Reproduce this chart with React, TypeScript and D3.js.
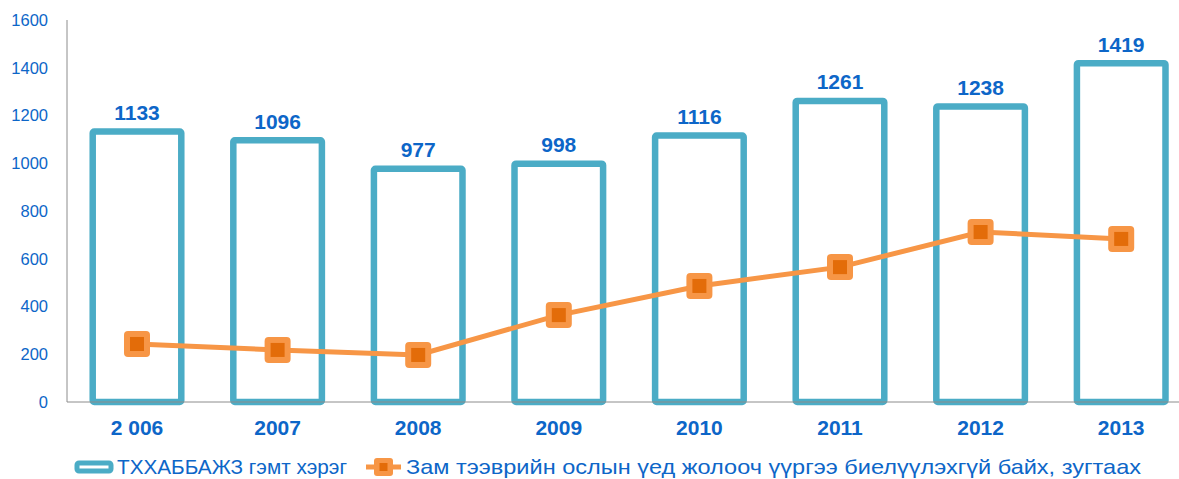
import React from "react";
import * as d3 from "d3";

const categories = ["2 006", "2007", "2008", "2009", "2010", "2011", "2012", "2013"];
const crimeValues = [1133, 1096, 977, 998, 1116, 1261, 1238, 1419];
const driverValues = [243, 218, 197, 364, 486, 565, 712, 683];
const yTicks = [0, 200, 400, 600, 800, 1000, 1200, 1400, 1600];
const seriesNames = [
  "ТХХАББАЖЗ гэмт хэрэг",
  "Зам тээврийн ослын үед жолооч үүргээ биелүүлэхгүй байх, зугтаах",
];

const W = 1179;
const H = 479;
const TEAL = "#4BACC6";
const ORANGE = "#F79646";
const ORANGE_DARK = "#E36C09";
const BLUE = "#0D66C8";
const FONT = "'Liberation Sans', Arial, sans-serif";

export default function App() {
  const x = d3.scaleBand<string>().domain(categories).range([66.7, 1191.5]).paddingInner(0.37).paddingOuter(0.185);
  const y = d3.scaleLinear().domain([0, 1600]).range([402, 20]);
  const bw = x.bandwidth();
  const cx = (c: string) => (x(c) as number) + bw / 2;
  const line = d3
    .line<number>()
    .x((_, i) => cx(categories[i]))
    .y((d) => y(d));

  return (
    <svg width={W} height={H} style={{ position: "absolute", left: 0, top: 0 }} fontFamily={FONT}>
      <rect width={W} height={H} fill="#fff" />
      {/* y axis */}
      <line x1={67} x2={67} y1={y(1600)} y2={y(0)} stroke="#8c8c8c" strokeWidth={1} />
      {yTicks.map((t) => (
        <text key={t} x={48} y={y(t)} dy="0.35em" textAnchor="end" fontSize={16.5} fill={BLUE}>
          {t}
        </text>
      ))}
      {/* bars */}
      {categories.map((c, i) => (
        <g key={c}>
          <rect
            x={x(c) as number}
            y={y(crimeValues[i])}
            width={bw}
            height={y(0) - y(crimeValues[i])}
            fill="#fff"
            stroke={TEAL}
            strokeWidth={6.5}
            rx={1.5}
          />
          <text x={cx(c)} y={y(crimeValues[i]) - 19} dy="0.35em" textAnchor="middle" fontSize={21} fontWeight="bold" fill={BLUE}>
            {crimeValues[i]}
          </text>
          <text x={cx(c)} y={427.5} dy="0.35em" textAnchor="middle" fontSize={21} fontWeight="bold" fill={BLUE}>
            {c}
          </text>
        </g>
      ))}
      {/* x axis */}
      <line x1={67} x2={W} y1={y(0)} y2={y(0)} stroke="#8c8c8c" strokeWidth={1} />
      {/* line series */}
      <path d={line(driverValues) || ""} fill="none" stroke={ORANGE} strokeWidth={5} />
      {driverValues.map((v, i) => (
        <g key={i}>
          <rect x={cx(categories[i]) - 13} y={y(v) - 13} width={26} height={26} rx={4} fill={ORANGE} />
          <rect x={cx(categories[i]) - 7} y={y(v) - 7} width={14} height={14} fill={ORANGE_DARK} />
        </g>
      ))}
      {/* legend */}
      <g>
        <rect x={77} y={463} width={34} height={8} rx={2} fill="#fff" stroke={TEAL} strokeWidth={5} />
        <text x={117} y={467} dy="0.35em" fontSize={21} fill={BLUE} textLength={230} lengthAdjust="spacingAndGlyphs">
          {seriesNames[0]}
        </text>
        <line x1={366} x2={401} y1={467} y2={467} stroke={ORANGE} strokeWidth={5} />
        <rect x={374} y={458} width={19} height={18} rx={3} fill={ORANGE} />
        <rect x={379.5} y={463} width={8} height={8} fill={ORANGE_DARK} />
        <text x={406} y={467} dy="0.35em" fontSize={21} fill={BLUE} textLength={735} lengthAdjust="spacingAndGlyphs">
          {seriesNames[1]}
        </text>
      </g>
    </svg>
  );
}
